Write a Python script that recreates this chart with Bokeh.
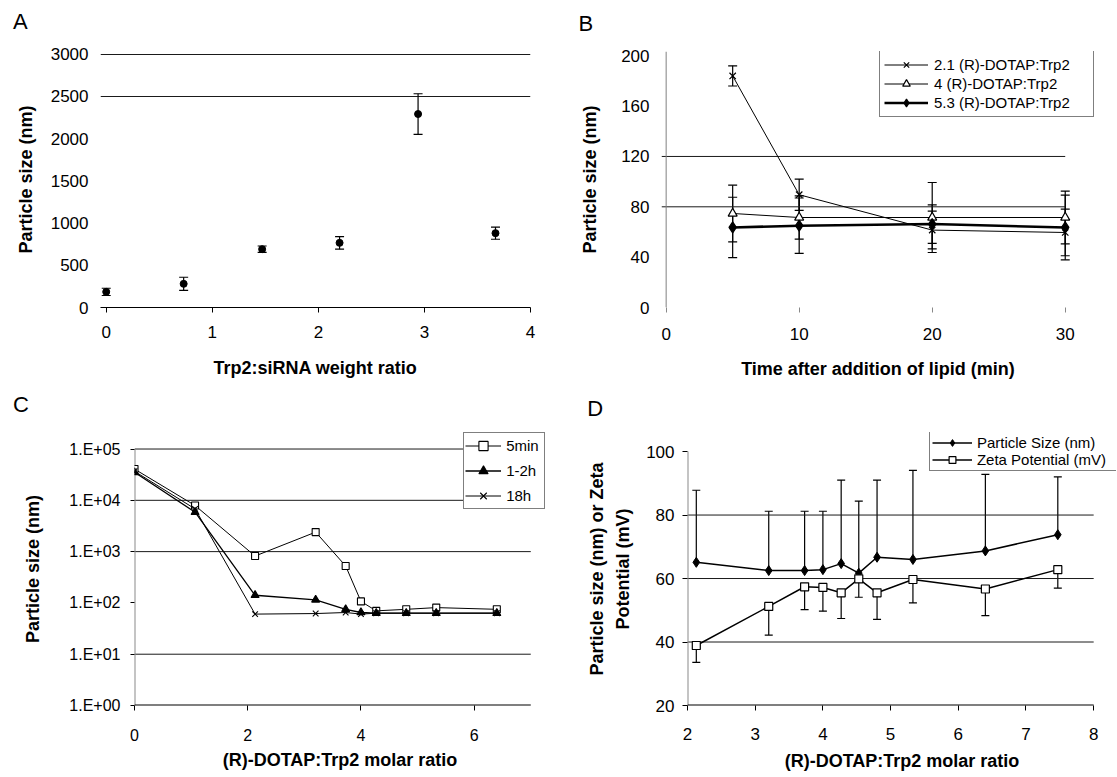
from bokeh.plotting import figure
from bokeh.layouts import row, column
from bokeh.models import (ColumnDataSource, Whisker, TeeHead, FixedTicker, Span,
                          Legend, LegendItem, Label, CustomJSTickFormatter, Range1d)
from bokeh.embed import file_html
from bokeh.resources import INLINE

FONT = "Liberation Sans"

# ---------------- Panel A data ----------------
a_ratio = [0.0, 0.73, 1.47, 2.2, 2.94, 3.67]
a_size = [185, 280, 690, 765, 2290, 880]
a_err = [43, 78, 38, 75, 240, 72]
a_yticks = [0, 500, 1000, 1500, 2000, 2500, 3000]
a_xticks = [0, 1, 2, 3, 4]
a_grid = [2500, 3000]

# ---------------- Panel B data ----------------
b_time = [5, 10, 20, 30]
b_labels = ["2.1 (R)-DOTAP:Trp2", "4 (R)-DOTAP:Trp2", "5.3 (R)-DOTAP:Trp2"]
b_size_21 = [184, 89.6, 61.5, 59.6]
b_err_21 = [8, 12.4, 15, 18.5]
b_size_4 = [74.7, 71.5, 71.5, 71.5]
b_err_4 = [22.5, 17.2, 27.8, 21]
b_size_53 = [63.6, 65, 66.3, 63.6]
b_err_53 = [24, 22, 15.3, 25.7]
b_yticks = [0, 40, 80, 120, 160, 200]
b_xticks = [0, 10, 20, 30]
b_grid = [80, 120]

# ---------------- Panel C data ----------------
c_ratio = [0, 1.07, 2.13, 3.2, 3.73, 4.0, 4.27, 4.8, 5.33, 6.4]
c_labels = ["5min", "1-2h", "18h"]
c_5min = [40700, 7920, 820, 2400, 525, 107, 70, 75, 81, 75]
c_12h = [35200, 5870, 141, 115, 75, 65, 63, 63, 63, 63]
c_18h = [36800, 6800, 60.5, 62, 65, 60.5, 63, 63, 63, 63]
c_yticks = [1, 10, 100, 1000, 10000, 100000]
c_xticks = [0, 2, 4, 6]
c_grid = [10, 1000, 10000, 100000]

# ---------------- Panel D data ----------------
d_ratio = [2.13, 3.2, 3.73, 4.0, 4.27, 4.53, 4.8, 5.33, 6.4, 7.47]
d_labels = ["Particle Size (nm)", "Zeta Potential (mV)"]
d_size = [65.1, 62.5, 62.5, 62.8, 64.7, 61.7, 66.7, 66.0, 68.7, 73.8]
d_size_err = [22.7, 18.7, 18.7, 18.4, 26.3, 22.7, 24.3, 28.1, 24.1, 18.2]
d_zeta = [38.9, 51.2, 57.4, 57.2, 55.5, 59.9, 55.5, 59.7, 56.7, 62.8]
d_zeta_err = [5.3, 9.0, 7.2, 7.5, 8.1, 5.8, 8.4, 7.4, 8.4, 5.8]
d_yticks = [20, 40, 60, 80, 100]
d_xticks = [2, 3, 4, 5, 6, 7, 8]
d_grid = [40, 60, 80]

GRID_COLOR = "#1a1a1a"
AXIS_GRAY = "#8a8a8a"


def base_fig(width, height, left, right, top, bottom, x_range, y_range, y_axis_type="linear"):
    p = figure(width=width, height=height, x_range=x_range, y_range=y_range,
               y_axis_type=y_axis_type, toolbar_location=None, output_backend="svg",
               min_border_left=left, min_border_right=right,
               min_border_top=top, min_border_bottom=bottom)
    p.outline_line_color = None
    p.background_fill_color = "white"
    p.border_fill_color = "white"
    p.xgrid.visible = False
    p.ygrid.grid_line_color = GRID_COLOR
    p.ygrid.grid_line_width = 1
    for ax in (p.xaxis[0], p.yaxis[0]):
        ax.major_label_text_font = FONT
        ax.axis_label_text_font = FONT
        ax.axis_label_text_font_style = "bold"
        ax.axis_label_text_font_size = "18px"
        ax.axis_label_text_color = "black"
        ax.major_label_text_color = "black"
        ax.minor_tick_line_color = None
        ax.major_tick_in = 0
    return p


def style_axis(ax, ticks, size, tick_out, tick_color, line_color, standoff, label, label_standoff):
    ax.ticker = FixedTicker(ticks=ticks)
    ax.major_label_text_font_size = size
    ax.major_tick_out = tick_out
    ax.major_tick_line_color = tick_color
    ax.axis_line_color = line_color
    ax.major_label_standoff = standoff
    ax.axis_label = label
    ax.axis_label_standoff = label_standoff


def letter_label(p, text, x, y):
    p.add_layout(Label(x=x, y=y, x_units="screen", y_units="screen", text=text,
                       text_font=FONT, text_font_size="22px", text_color="black",
                       text_baseline="alphabetic"), "above")


def add_legend(p, items, x, y, padding, glyph_width, label_standoff, label_width,
               label_height, spacing):
    leg = Legend(items=items, location=(x, y), padding=padding, spacing=spacing, margin=0,
                 glyph_width=glyph_width, glyph_height=label_height,
                 label_height=label_height, label_width=label_width,
                 label_standoff=label_standoff,
                 label_text_font=FONT, label_text_font_size="15px",
                 label_text_color="black",
                 border_line_color="black", border_line_width=1,
                 background_fill_color="white", background_fill_alpha=1.0)
    p.add_layout(leg)


def whisker(p, x, lower, upper, lower_head=True, upper_head=True, size=9):
    src = ColumnDataSource(dict(x=x, lower=lower, upper=upper))
    w = Whisker(base="x", lower="lower", upper="upper", source=src, dimension="height",
                line_color="black", line_width=1.2,
                lower_head=TeeHead(size=size, line_color="black", line_width=1.2) if lower_head else None,
                upper_head=TeeHead(size=size, line_color="black", line_width=1.2) if upper_head else None)
    p.add_layout(w)


def hgrid(p, levels, x0, x1):
    p.segment(x0=[x0] * len(levels), y0=levels, x1=[x1] * len(levels), y1=levels,
              line_color=GRID_COLOR, line_width=1)


# ================= Panel A =================
pA = base_fig(558, 386, 100, 28, 51, 77, Range1d(-0.054, 4.0), Range1d(0, 3030))
pA.ygrid.ticker = FixedTicker(ticks=a_grid)
style_axis(pA.yaxis[0], a_yticks, "17px", 0, None, None, 12, "Particle size (nm)", 12)
style_axis(pA.xaxis[0], a_xticks, "17px", 5, "black", "black", 13, "Trp2:siRNA weight ratio", 17)
whisker(pA, a_ratio, [v - e for v, e in zip(a_size, a_err)],
        [v + e for v, e in zip(a_size, a_err)], size=9)
pA.scatter(a_ratio, a_size, marker="circle", size=7, color="black")
letter_label(pA, "A", -87.5, 30.5)

# ================= Panel B =================
pB = base_fig(558, 386, 103, 22, 51, 79, Range1d(-0.35, 32.2), Range1d(0, 203.4))
pB.ygrid.visible = False
hgrid(pB, b_grid, -0.35, 30)
style_axis(pB.yaxis[0], b_yticks, "17px", 0, None, None, 12, "Particle size (nm)", 18)
style_axis(pB.xaxis[0], b_xticks, "17px", 5, "#888888", None, 15,
           "Time after addition of lipid (min)", 16)
pB.add_layout(Span(location=0, dimension="height", line_color="#808080", line_width=1))

b_items = []
b_series = [(b_size_21, b_err_21, "x", 9, 1.0, "black"),
            (b_size_4, b_err_4, "triangle", 9, 1.0, "white"),
            (b_size_53, b_err_53, "diamond", 11, 2.6, "black")]
for (ys, es, mk, ms, lw, fill) in b_series:
    whisker(pB, b_time, [v - e for v, e in zip(ys, es)], [v + e for v, e in zip(ys, es)], size=9)
for (ys, es, mk, ms, lw, fill), lab in zip(b_series, b_labels):
    lr = pB.line(b_time, ys, line_color="black", line_width=lw)
    sr = pB.scatter(b_time, ys, marker=mk, size=ms, line_color="black", fill_color=fill,
                    line_width=1.2)
    b_items.append(LegendItem(label=lab, renderers=[lr, sr]))
add_legend(pB, b_items, 217.9, 189.7, padding=4, glyph_width=44, label_standoff=6,
           label_width=155, label_height=19, spacing=0)
letter_label(pB, "B", -83, 28.3)

# ================= Panel C =================
pC = base_fig(558, 390, 134, 13, 46, 70, Range1d(0, 7.26), Range1d(1, 2.1e5), y_axis_type="log")
pC.ygrid.visible = False
hgrid(pC, c_grid, 0, 7)
style_axis(pC.yaxis[0], c_yticks, "16px", 4, "black", None, 10, "Particle size (nm)", 23)
pC.yaxis[0].formatter = CustomJSTickFormatter(
    code="return '1.E+' + String(Math.round(Math.log10(tick))).padStart(2, '0');")
style_axis(pC.xaxis[0], c_xticks, "16px", 5, "black", None, 18,
           "(R)-DOTAP:Trp2 molar ratio", 6)
pC.segment(x0=[0], y0=[c_yticks[0]], x1=[0], y1=[c_yticks[-1]], line_color=AXIS_GRAY, line_width=2)
pC.segment(x0=[0], y0=[c_yticks[0]], x1=[7], y1=[c_yticks[0]], line_color="black", line_width=2)

c_items = []
c_series = [(c_5min, "square", 7, "white", 1.0),
            (c_12h, "triangle", 8, "black", 1.3),
            (c_18h, "x", 8, "black", 1.0)]
for (ys, mk, ms, fill, lw), lab in zip(c_series, c_labels):
    lr = pC.line(c_ratio, ys, line_color="black", line_width=lw)
    sr = pC.scatter(c_ratio, ys, marker=mk, size=ms, line_color="black", fill_color=fill,
                    line_width=1.1)
    c_items.append(LegendItem(label=lab, renderers=[lr, sr]))
add_legend(pC, c_items, 329.2, 196, padding=1, glyph_width=36, label_standoff=5,
           label_width=37, label_height=23, spacing=2)
letter_label(pC, "C", -121.5, 27.7)

# ================= Panel D =================
pD = base_fig(558, 390, 129, 0, 46, 71, Range1d(2, 8.337), Range1d(20, 106.0))
pD.ygrid.visible = False
hgrid(pD, d_grid, 2, 8)
style_axis(pD.yaxis[0], d_yticks, "17px", 5, "black", None, 8,
           "Particle size (nm) or Zeta\nPotential (mV)", 10)
pD.yaxis[0].axis_label_text_line_height = 1.3
style_axis(pD.xaxis[0], d_xticks, "17px", 5, "black", None, 17,
           "(R)-DOTAP:Trp2 molar ratio", 8)
pD.segment(x0=[2], y0=[20], x1=[2], y1=[100], line_color=AXIS_GRAY, line_width=2)
pD.segment(x0=[2], y0=[20], x1=[8], y1=[20], line_color="black", line_width=2)

whisker(pD, d_ratio, d_size, [v + e for v, e in zip(d_size, d_size_err)],
        lower_head=False, size=8)
whisker(pD, d_ratio, [v - e for v, e in zip(d_zeta, d_zeta_err)], d_zeta,
        upper_head=False, size=8)
d_items = []
lr1 = pD.line(d_ratio, d_size, line_color="black", line_width=1.5)
sr1 = pD.scatter(d_ratio, d_size, marker="diamond", size=10, color="black")
d_items.append(LegendItem(label=d_labels[0], renderers=[lr1, sr1]))
lr2 = pD.line(d_ratio, d_zeta, line_color="black", line_width=1.5)
sr2 = pD.scatter(d_ratio, d_zeta, marker="square", size=8, line_color="black",
                 fill_color="white", line_width=1.2)
d_items.append(LegendItem(label=d_labels[1], renderers=[lr2, sr2]))
add_legend(pD, d_items, 241.9, 234, padding=2, glyph_width=40, label_standoff=5,
           label_width=137, label_height=17, spacing=0)
letter_label(pD, "D", -100.2, 23.8)

layout = column(row(pA, pB), row(pC, pD))

with open("out.html", "w") as f:
    f.write(file_html(layout, INLINE))
